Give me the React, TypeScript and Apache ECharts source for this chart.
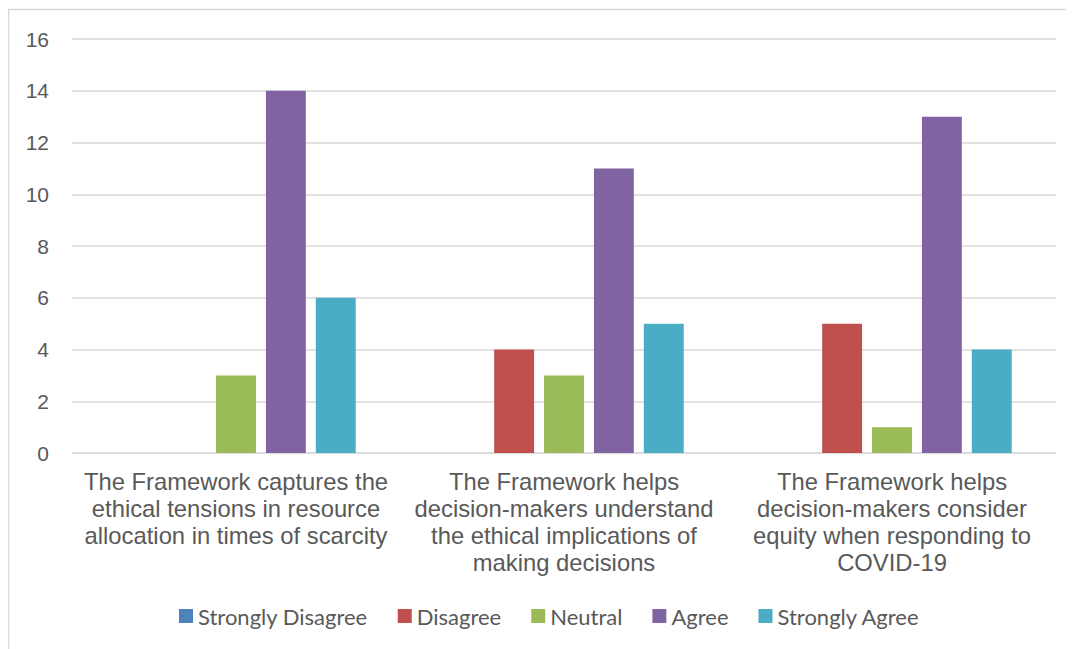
import React, { useEffect, useRef } from "react";
import * as echarts from "echarts";

const categories = [
  "The Framework captures the\nethical tensions in resource\nallocation in times of scarcity",
  "The Framework helps\ndecision-makers understand\nthe ethical implications of\nmaking decisions",
  "The Framework helps\ndecision-makers consider\nequity when responding to\nCOVID-19",
];
const seriesNames = ["Strongly Disagree", "Disagree", "Neutral", "Agree", "Strongly Agree"];
const stronglyDisagree = [0, 0, 0];
const disagree = [0, 4, 5];
const neutral = [3, 3, 1];
const agree = [14, 11, 13];
const stronglyAgree = [6, 5, 4];
const colors = ["#4f81bd", "#c0504d", "#9bbb59", "#8064a2", "#4bacc6"];

export default function App() {
  const ref = useRef<HTMLDivElement>(null);
  useEffect(() => {
    if (!ref.current) return;
    const chart = echarts.init(ref.current, undefined, { renderer: "svg" });
    const values = [stronglyDisagree, disagree, neutral, agree, stronglyAgree];
    chart.setOption({
      animation: false,
      color: colors,
      graphic: [
        {
          type: "rect",
          shape: { x: 0.5, y: 1.5, width: 1200, height: 800 },
          style: { fill: "none", stroke: "#d9d9d9", lineWidth: 1.5 },
          silent: true,
        },
      ],
      grid: { left: 64, right: 18, top: 31, bottom: 196, containLabel: false },
      legend: {
        top: 590,
        left: 166,
        itemWidth: 14,
        itemHeight: 14,
        itemGap: 30,
        icon: "rect",
        textStyle: { fontFamily: "Lato", fontSize: 22, lineHeight: 26, color: "#595959" },
        data: seriesNames,
      },
      xAxis: {
        type: "category",
        data: categories,
        axisTick: { show: false },
        axisLine: { show: true, lineStyle: { color: "#d9d9d9", width: 1.5 } },
        axisLabel: {
          interval: 0,
          margin: 15,
          fontFamily: "Liberation Sans",
          fontSize: 23.8,
          lineHeight: 27,
          color: "#595959",
          align: "center",
        },
      },
      yAxis: {
        type: "value",
        min: 0,
        max: 16,
        interval: 2,
        axisLine: { show: false },
        axisTick: { show: false },
        splitLine: { lineStyle: { color: "#d9d9d9", width: 1.5 } },
        axisLabel: {
          margin: 23,
          fontFamily: "Liberation Sans",
          fontSize: 21,
          color: "#595959",
        },
      },
      series: seriesNames.map((name, i) => ({
        name,
        type: "bar",
        data: values[i],
        barGap: "25%",
        barCategoryGap: "27%",
        itemStyle: { color: colors[i] },
      })),
    });
    return () => chart.dispose();
  }, []);
  return <div ref={ref} style={{ width: 1066, height: 641 }} />;
}
